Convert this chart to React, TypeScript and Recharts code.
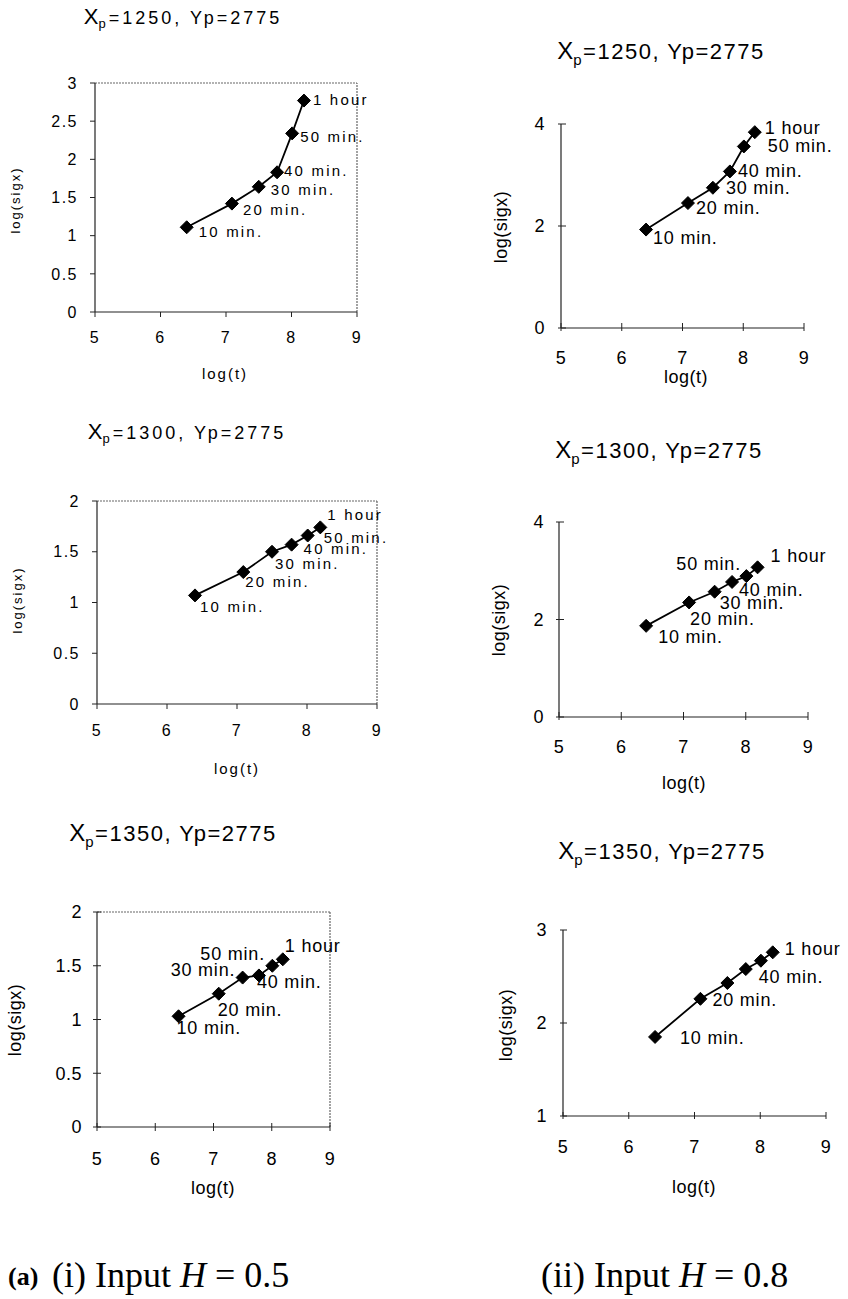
import React from "react";
import { LineChart, Line, XAxis, YAxis, ReferenceLine, LabelList } from "recharts";

// log(t) of the sampling times, shared by every panel
const timeLabels = ["10 min.", "20 min.", "30 min.", "40 min.", "50 min.", "1 hour"];
const logT = [6.4, 7.09, 7.5, 7.78, 8.01, 8.19];
const xTicks = [5, 6, 7, 8, 9];

// log(sigx)
const sigXp1250H05 = [1.11, 1.42, 1.64, 1.83, 2.34, 2.77];
const sigXp1250H08 = [1.93, 2.45, 2.75, 3.07, 3.56, 3.84];
const sigXp1300H05 = [1.07, 1.3, 1.5, 1.57, 1.66, 1.74];
const sigXp1300H08 = [1.87, 2.35, 2.57, 2.77, 2.89, 3.07];
const sigXp1350H05 = [1.03, 1.24, 1.39, 1.41, 1.5, 1.56];
const sigXp1350H08 = [1.85, 2.26, 2.43, 2.58, 2.67, 2.76];

// last panel only labels some of its points
const labelsXp1350H08 = ["10 min.", "20 min.", "", "40 min.", "", "1 hour"];

const yTicks0to3 = [0, 0.5, 1, 1.5, 2, 2.5, 3];
const yTicks0to2 = [0, 0.5, 1, 1.5, 2];
const yTicks0to4 = [0, 2, 4];
const yTicks1to3 = [1, 2, 3];

const FONT = "'Liberation Sans', Arial, Helvetica, sans-serif";
const SERIF = "'Liberation Serif', 'Times New Roman', Times, serif";

type Look = {
  title: number;
  titleX: number;
  titleSub: number;
  titleSpacing: number;
  tick: number;
  tickSpacing: number;
  label: number;
  labelSpacing: number;
  axis: number;
  yAxis: number;
  axisSpacing: number;
};

const spaced: Look = {
  title: 18, titleX: 22, titleSub: 13, titleSpacing: 3,
  tick: 16, tickSpacing: 1.5,
  label: 15, labelSpacing: 2.2,
  axis: 15, yAxis: 13, axisSpacing: 2,
};
const plain: Look = {
  title: 22, titleX: 24, titleSub: 15, titleSpacing: 1.5,
  tick: 18, tickSpacing: 0.5,
  label: 18, labelSpacing: 0.8,
  axis: 18, yAxis: 18, axisSpacing: 0.5,
};

type Panel = {
  xp: string;
  values: number[];
  labels: string[];
  yTicks: number[];
  plot: { left: number; top: number; right: number; bottom: number };
  look: Look;
  boxed: boolean;
  titleAt: [number, number];
  yLabelAt: [number, number];
  xLabelAt: [number, number];
  xGap: number;
  yGap: number;
  tickIn: number;
  tickOut: number;
  offsets: [number, number][];
};

const panels: Panel[] = [
  {
    xp: "1250", values: sigXp1250H05, labels: timeLabels, yTicks: yTicks0to3,
    plot: { left: 95, top: 83, right: 357, bottom: 312 }, look: spaced, boxed: true,
    titleAt: [183, 18], yLabelAt: [15, 200], xLabelAt: [225, 373],
    xGap: 20, yGap: 17, tickIn: 0, tickOut: 5,
    offsets: [[12, 4], [11, 6], [12, 3], [7, -2], [8, 3], [9, -1]],
  },
  {
    xp: "1250", values: sigXp1250H08, labels: timeLabels, yTicks: yTicks0to4,
    plot: { left: 561, top: 124, right: 804, bottom: 328 }, look: plain, boxed: false,
    titleAt: [661, 53], yLabelAt: [501, 227], xLabelAt: [686, 377],
    xGap: 23, yGap: 16, tickIn: 5, tickOut: 3,
    offsets: [[7, 8], [8, 5], [13, 0], [8, 0], [24, 0], [10, -4]],
  },
  {
    xp: "1300", values: sigXp1300H05, labels: timeLabels, yTicks: yTicks0to2,
    plot: { left: 97, top: 501, right: 377, bottom: 704 }, look: spaced, boxed: true,
    titleAt: [187, 433], yLabelAt: [17, 600], xLabelAt: [237, 768],
    xGap: 21, yGap: 17, tickIn: 0, tickOut: 5,
    offsets: [[5, 11], [2, 9], [3, 12], [12, 4], [16, 2], [7, -13]],
  },
  {
    xp: "1300", values: sigXp1300H08, labels: timeLabels, yTicks: yTicks0to4,
    plot: { left: 559, top: 522, right: 808, bottom: 717 }, look: plain, boxed: false,
    titleAt: [659, 452], yLabelAt: [499, 620], xLabelAt: [684, 783],
    xGap: 23, yGap: 15, tickIn: 5, tickOut: 3,
    offsets: [[12, 11], [1, 17], [5, 11], [7, 8], [-70, -12], [13, -11]],
  },
  {
    xp: "1350", values: sigXp1350H05, labels: timeLabels, yTicks: yTicks0to2,
    plot: { left: 97, top: 912, right: 330, bottom: 1127 }, look: plain, boxed: true,
    titleAt: [173, 835], yLabelAt: [15, 1020], xLabelAt: [213, 1188],
    xGap: 25, yGap: 15, tickIn: 4, tickOut: 4,
    offsets: [[-2, 12], [-1, 16], [-72, -8], [-2, 7], [-72, -12], [2, -13]],
  },
  {
    xp: "1350", values: sigXp1350H08, labels: labelsXp1350H08, yTicks: yTicks1to3,
    plot: { left: 563, top: 930, right: 826, bottom: 1116 }, look: plain, boxed: false,
    titleAt: [662, 853], yLabelAt: [506, 1025], xLabelAt: [694, 1187],
    xGap: 24, yGap: 16, tickIn: 4, tickOut: 3,
    offsets: [[25, 1], [12, 1], [0, 0], [13, 8], [0, 0], [12, -3]],
  },
];

const PAD_L = 70;
const PAD_R = 60;
const PAD_T = 20;
const PAD_B = 45;

function Diamond(props: any) {
  const { cx, cy } = props;
  if (cx == null || cy == null) return null;
  const r = 6.5;
  return (
    <polygon
      points={`${cx},${cy - r} ${cx + r},${cy} ${cx},${cy + r} ${cx - r},${cy}`}
      fill="#000"
      stroke="#000"
    />
  );
}

function ChartPanel({ p }: { p: Panel }) {
  const w = p.plot.right - p.plot.left;
  const h = p.plot.bottom - p.plot.top;
  const yMin = p.yTicks[0];
  const yMax = p.yTicks[p.yTicks.length - 1];
  const data = logT.map((t, i) => ({ t, s: p.values[i], label: p.labels[i] }));
  const lk = p.look;

  const xTick = (props: any) => {
    const { x, y, payload } = props;
    const axisY = y - p.xGap;
    return (
      <g>
        <line x1={x} x2={x} y1={axisY - p.tickIn} y2={axisY + p.tickOut} stroke="#222" />
        <text
          x={x}
          y={y}
          dy="0.71em"
          textAnchor="middle"
          fontSize={lk.tick}
          letterSpacing={lk.tickSpacing}
          fontFamily={FONT}
          fill="#000"
        >
          {payload.value}
        </text>
      </g>
    );
  };

  const yTick = (props: any) => {
    const { x, y, payload } = props;
    const axisX = x + p.yGap;
    return (
      <g>
        <line x1={axisX - p.tickOut} x2={axisX + p.tickIn} y1={y} y2={y} stroke="#222" />
        <text
          x={x}
          y={y}
          dy="0.355em"
          textAnchor="end"
          fontSize={lk.tick}
          letterSpacing={lk.tickSpacing}
          fontFamily={FONT}
          fill="#000"
        >
          {payload.value}
        </text>
      </g>
    );
  };

  const pointLabel = (props: any) => {
    const { x, y, value, index } = props;
    if (!value) return null;
    const i = typeof index === "number" ? index : timeLabels.indexOf(value);
    const [dx, dy] = p.offsets[i] || [8, 0];
    return (
      <text
        x={x + dx}
        y={y + dy}
        dominantBaseline="central"
        fontSize={lk.label}
        letterSpacing={lk.labelSpacing}
        fontFamily={FONT}
        fill="#000"
      >
        {value}
      </text>
    );
  };

  const text = { position: "absolute" as const, fontFamily: FONT, color: "#000", whiteSpace: "nowrap" as const };

  return (
    <>
      <div
        style={{
          ...text,
          left: p.titleAt[0],
          top: p.titleAt[1],
          transform: "translate(-50%, -50%)",
          fontSize: lk.title,
          letterSpacing: lk.titleSpacing,
          lineHeight: 1,
        }}
      >
        <span style={{ fontSize: lk.titleX, letterSpacing: 0 }}>X</span>
        <sub style={{ fontSize: lk.titleSub, verticalAlign: "-0.35em" }}>p</sub>
        {`=${p.xp}, Yp=2775`}
      </div>
      <div
        style={{
          position: "absolute",
          left: p.plot.left - PAD_L,
          top: p.plot.top - PAD_T,
        }}
      >
        <LineChart
          width={PAD_L + w + PAD_R}
          height={PAD_T + h + PAD_B}
          data={data}
          margin={{ top: PAD_T, right: PAD_R, left: 0, bottom: 0 }}
        >
          <XAxis
            type="number"
            dataKey="t"
            domain={[5, 9]}
            ticks={xTicks}
            interval={0}
            height={PAD_B}
            tickSize={0}
            tickMargin={p.xGap}
            tickLine={false}
            tick={xTick}
            axisLine={{ stroke: "#222", strokeWidth: 1.2 }}
          />
          <YAxis
            type="number"
            domain={[yMin, yMax]}
            ticks={p.yTicks}
            interval={0}
            width={PAD_L}
            tickSize={0}
            tickMargin={p.yGap}
            tickLine={false}
            tick={yTick}
            axisLine={{ stroke: "#222", strokeWidth: 1.2 }}
          />
          {p.boxed && (
            <ReferenceLine y={yMax} stroke="#666" strokeDasharray="2 1" strokeWidth={1.2} />
          )}
          {p.boxed && (
            <ReferenceLine x={9} stroke="#666" strokeDasharray="2 1" strokeWidth={1.2} />
          )}
          <Line
            type="linear"
            dataKey="s"
            stroke="#000"
            strokeWidth={1.8}
            dot={<Diamond />}
            activeDot={false}
            isAnimationActive={false}
          >
            <LabelList dataKey="label" content={pointLabel} />
          </Line>
        </LineChart>
      </div>
      <div
        style={{
          ...text,
          left: p.yLabelAt[0],
          top: p.yLabelAt[1],
          transform: "translate(-50%, -50%) rotate(-90deg)",
          fontSize: lk.yAxis,
          letterSpacing: lk.axisSpacing,
          lineHeight: 1,
        }}
      >
        log(sigx)
      </div>
      <div
        style={{
          ...text,
          left: p.xLabelAt[0],
          top: p.xLabelAt[1],
          transform: "translate(-50%, -50%)",
          fontSize: lk.axis,
          letterSpacing: lk.axisSpacing,
          lineHeight: 1,
        }}
      >
        log(t)
      </div>
    </>
  );
}

export default function App() {
  return (
    <div
      style={{
        position: "absolute",
        left: 0,
        top: 0,
        width: 848,
        height: 1299,
        background: "#fff",
        overflow: "hidden",
      }}
    >
      {panels.map((p, i) => (
        <ChartPanel key={i} p={p} />
      ))}
      <div
        style={{
          position: "absolute",
          left: 8,
          top: 1261,
          fontFamily: SERIF,
          fontSize: 26,
          fontWeight: "bold",
          lineHeight: 1.2,
        }}
      >
        (a)
      </div>
      <div
        style={{
          position: "absolute",
          left: 52,
          top: 1254,
          fontFamily: SERIF,
          fontSize: 36,
          lineHeight: 1.2,
          whiteSpace: "nowrap",
        }}
      >
        (i) Input <i>H</i> = 0.5
      </div>
      <div
        style={{
          position: "absolute",
          left: 541,
          top: 1254,
          fontFamily: SERIF,
          fontSize: 36,
          lineHeight: 1.2,
          whiteSpace: "nowrap",
        }}
      >
        (ii) Input <i>H</i> = 0.8
      </div>
    </div>
  );
}
